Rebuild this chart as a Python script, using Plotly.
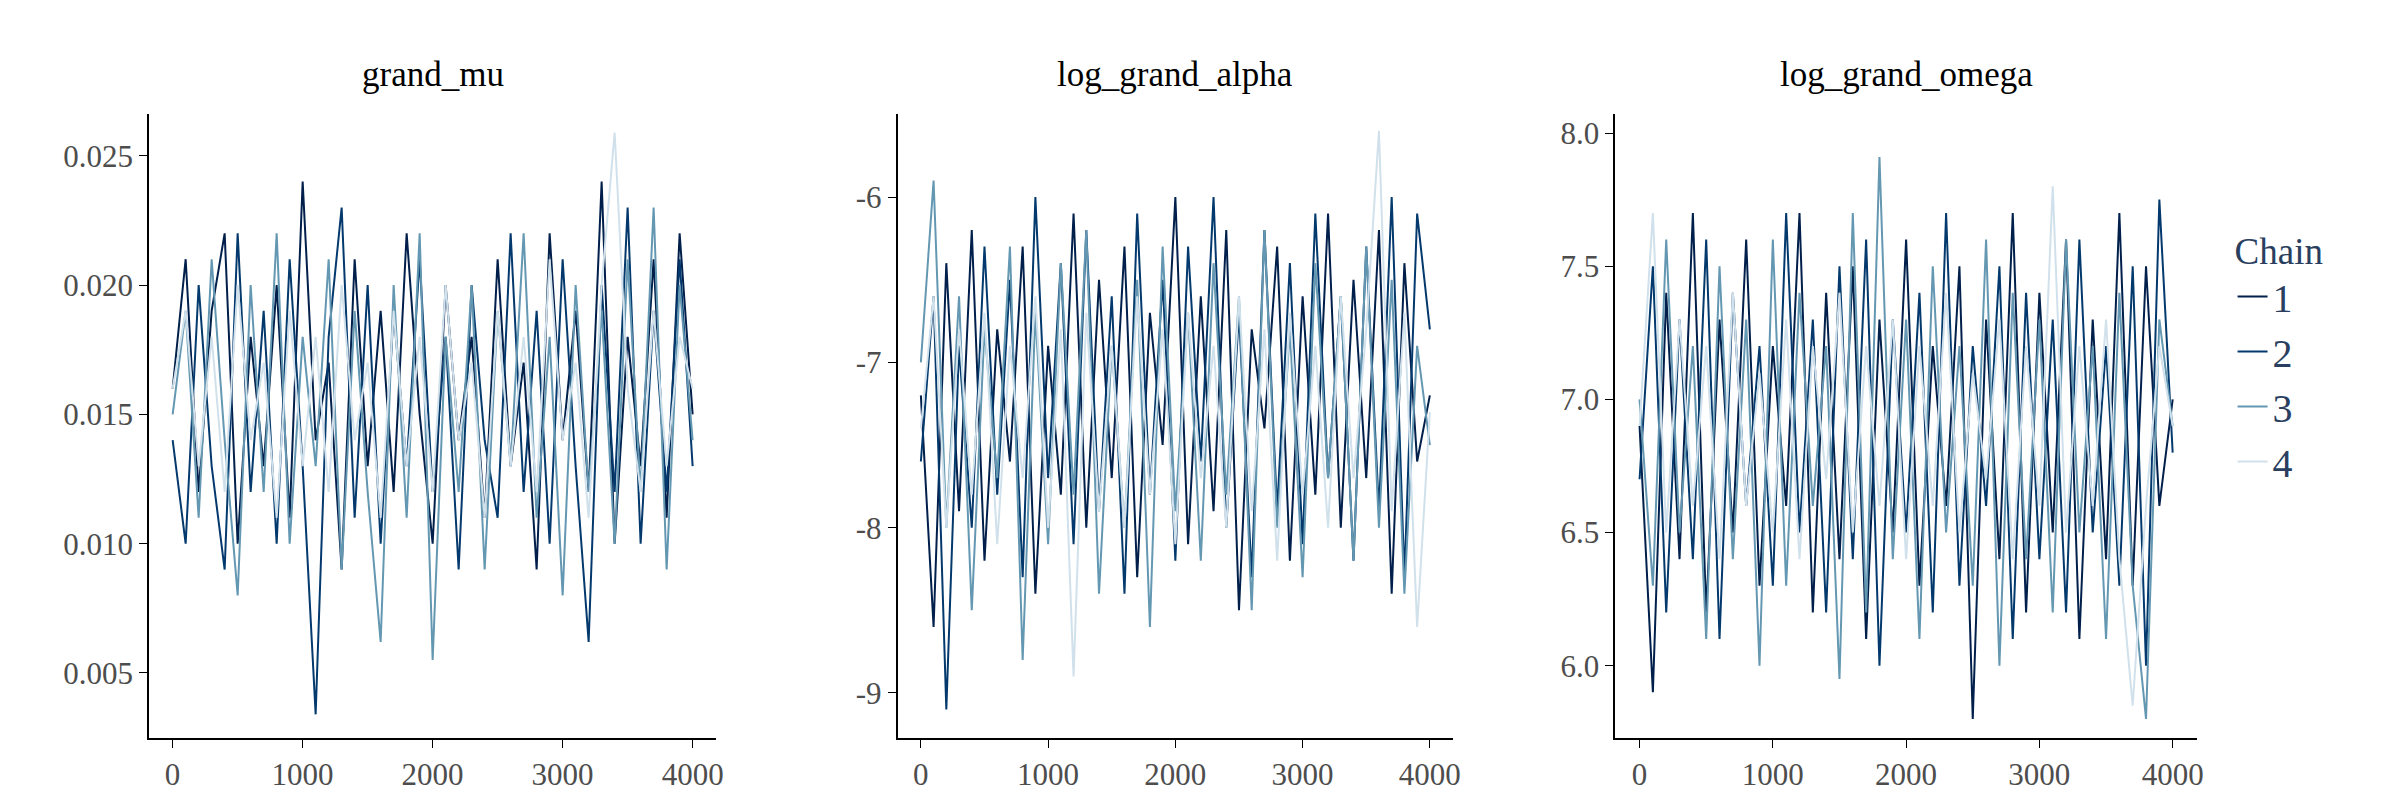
import numpy as np
import plotly.graph_objects as go

# hand-read approximations of the four chains, one value per ~100 iterations
params = ["grand_mu", "log_grand_alpha", "log_grand_omega"]
chains = ["1", "2", "3", "4"]
colors = ["#011f4b", "#03396c", "#6497b1", "#d1e1ec"]

grand_mu = [
    [0.016,0.021,0.012,0.019,0.022,0.010,0.018,0.013,0.020,0.011,0.024,0.014,0.017,0.009,0.021,0.013,0.019,0.012,0.022,0.015,0.010,0.020,0.014,0.018,0.011,0.021,0.013,0.017,0.009,0.022,0.014,0.019,0.012,0.024,0.010,0.018,0.013,0.021,0.011,0.022,0.015],
    [0.014,0.010,0.020,0.013,0.009,0.022,0.012,0.019,0.010,0.021,0.013,0.0034,0.018,0.023,0.011,0.020,0.010,0.019,0.013,0.021,0.012,0.018,0.009,0.020,0.014,0.011,0.022,0.012,0.019,0.010,0.021,0.013,0.0062,0.020,0.012,0.023,0.010,0.019,0.012,0.021,0.013],
    [0.015,0.019,0.011,0.021,0.014,0.008,0.020,0.012,0.022,0.010,0.018,0.013,0.021,0.009,0.019,0.012,0.0062,0.020,0.011,0.022,0.0055,0.018,0.012,0.020,0.009,0.019,0.013,0.022,0.011,0.018,0.008,0.020,0.012,0.019,0.010,0.021,0.012,0.023,0.009,0.020,0.014],
    [0.016,0.019,0.013,0.018,0.012,0.020,0.014,0.017,0.011,0.019,0.013,0.018,0.012,0.020,0.014,0.017,0.011,0.019,0.013,0.018,0.012,0.020,0.014,0.017,0.011,0.019,0.013,0.018,0.012,0.021,0.014,0.017,0.011,0.020,0.0259,0.016,0.012,0.019,0.013,0.018,0.016],
]
log_grand_alpha = [
    [-7.2,-8.6,-6.4,-7.9,-6.2,-8.2,-6.8,-7.6,-6.3,-8.4,-6.9,-7.8,-6.1,-8.0,-6.5,-7.7,-6.3,-8.3,-6.7,-7.5,-6.0,-8.1,-6.6,-7.9,-6.2,-8.5,-6.8,-7.4,-6.3,-8.2,-6.6,-7.8,-6.1,-8.0,-6.5,-7.7,-6.2,-8.4,-6.4,-7.6,-7.2],
    [-7.6,-6.6,-9.1,-6.9,-8.0,-6.3,-7.8,-6.5,-8.3,-6.0,-7.7,-6.4,-8.1,-6.2,-7.9,-6.6,-8.4,-6.1,-7.8,-6.5,-8.2,-6.3,-7.6,-6.0,-8.0,-6.7,-8.3,-6.2,-7.9,-6.4,-8.1,-6.1,-7.7,-6.6,-8.2,-6.3,-7.9,-6.0,-8.3,-6.1,-6.8],
    [-7.0,-5.9,-8.0,-6.6,-8.5,-6.8,-7.7,-6.3,-8.8,-6.7,-8.1,-6.4,-7.8,-6.2,-8.4,-6.9,-8.0,-6.5,-8.6,-6.3,-7.9,-6.7,-8.2,-6.4,-7.8,-6.6,-8.5,-6.2,-8.0,-6.8,-8.3,-6.4,-7.7,-6.6,-8.2,-6.3,-8.0,-6.5,-8.4,-6.9,-7.5],
    [-7.4,-6.6,-8.0,-6.8,-7.8,-6.7,-8.1,-6.9,-7.7,-6.6,-8.0,-6.8,-8.9,-6.7,-7.9,-6.9,-8.0,-6.6,-7.8,-6.8,-8.1,-6.7,-7.7,-6.9,-8.0,-6.6,-7.9,-6.8,-8.2,-6.7,-7.8,-6.9,-8.0,-6.6,-7.7,-6.8,-5.6,-7.9,-6.7,-8.6,-7.3],
]
log_grand_omega = [
    [6.9,5.9,7.4,6.4,7.7,6.2,7.3,6.5,7.6,6.3,7.2,6.6,7.7,6.2,7.4,6.4,7.5,6.1,7.3,6.5,7.6,6.3,7.2,6.6,7.5,5.8,7.3,6.4,7.7,6.2,7.4,6.5,7.6,6.1,7.3,6.4,7.7,6.3,7.5,6.6,7.0],
    [6.7,7.5,6.2,7.3,6.4,7.6,6.1,7.4,6.6,7.2,6.3,7.7,6.5,7.3,6.2,7.5,6.4,7.6,6.0,7.3,6.5,7.4,6.2,7.7,6.3,7.2,6.6,7.5,6.1,7.4,6.4,7.3,6.2,7.6,6.5,7.2,6.3,7.5,6.0,7.75,6.8],
    [7.0,6.3,7.6,6.5,7.2,6.1,7.5,6.4,7.3,6.0,7.6,6.3,7.4,6.6,7.2,5.95,7.7,6.2,7.91,6.4,7.3,6.1,7.5,6.5,7.2,6.3,7.6,6.0,7.4,6.4,7.3,6.2,7.6,6.5,7.2,6.1,7.4,6.3,5.8,7.3,6.9],
    [6.9,7.7,6.5,7.3,6.6,7.2,6.4,7.4,6.6,7.1,6.5,7.3,6.4,7.2,6.7,7.4,6.5,7.2,6.6,7.3,6.4,7.2,6.6,7.4,6.5,7.1,6.7,7.3,6.4,7.2,6.6,7.8,6.5,7.2,6.6,7.3,6.4,5.85,6.6,7.2,6.9],
]
data = [grand_mu, log_grand_alpha, log_grand_omega]

x_ticks = [0, 1000, 2000, 3000, 4000]
y_ticks = [
    [0.005, 0.010, 0.015, 0.020, 0.025],
    [-9, -8, -7, -6],
    [6.0, 6.5, 7.0, 7.5, 8.0],
]
y_ranges = [[0.0025, 0.0266], [-9.27, -5.5], [5.73, 8.07]]
x_domains = [[0.059, 0.296], [0.372, 0.604], [0.672, 0.915]]

font = "Liberation Serif"
fig = go.Figure()
layout = {}
for i, p in enumerate(params):
    n = "" if i == 0 else str(i + 1)
    for c, vals in enumerate(data[i]):
        it = np.linspace(1, 4000, len(vals))
        fig.add_trace(go.Scatter(
            x=it, y=vals, mode="lines", name=chains[c],
            line=dict(color=colors[c], width=2),
            xaxis="x" + n, yaxis="y" + n, showlegend=(i == 0),
        ))
    common = dict(showline=True, linecolor="black", linewidth=2, ticks="outside",
                  ticklen=8, tickcolor="black", showgrid=False, zeroline=False,
                  tickfont=dict(family=font, size=31, color="#4d4d4d"))
    layout["xaxis" + n] = dict(domain=x_domains[i], anchor="y" + n, range=[-180, 4180],
                               tickvals=x_ticks, **common)
    layout["yaxis" + n] = dict(domain=[0.088, 0.867], anchor="x" + n, range=y_ranges[i],
                               tickvals=y_ticks[i],
                               ticktext=[f"{v:.3f}" if i == 0 else (f"{v:.1f}" if i == 2 else str(v)) for v in y_ticks[i]],
                               **common)
    fig.add_annotation(text=p, xref="paper", yref="paper", x=sum(x_domains[i]) / 2, y=0.89,
                       xanchor="center", yanchor="bottom", showarrow=False,
                       font=dict(family=font, size=35, color="black"))

fig.update_layout(
    **layout,
    width=2400, height=800,
    margin=dict(l=0, r=0, t=0, b=0),
    plot_bgcolor="white", paper_bgcolor="white",
    font=dict(family=font),
    legend=dict(title=dict(text="Chain", font=dict(size=37, family=font)),
                font=dict(size=40, family=font), x=0.93, y=0.74, yanchor="top",
                tracegroupgap=8),
)
fig.write_html("out.html")
